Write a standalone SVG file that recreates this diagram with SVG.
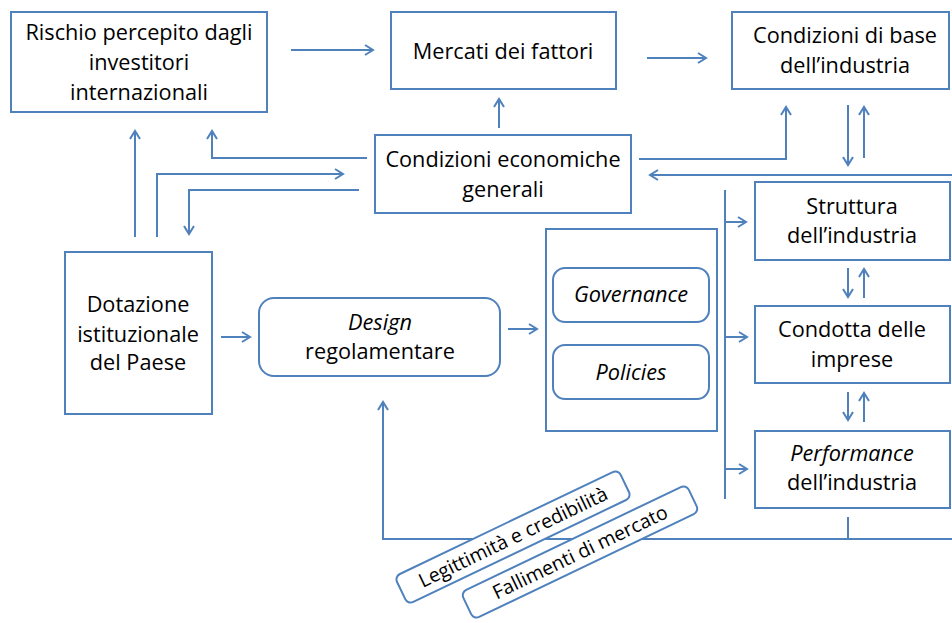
<svg xmlns="http://www.w3.org/2000/svg" width="952" height="623" viewBox="0 0 952 623">
<defs>
<marker id="ah" markerUnits="userSpaceOnUse" markerWidth="14" markerHeight="14" viewBox="-10 -7 12 14" refX="0" refY="0" orient="auto">
<path d="M-8,-5 L0,0 L-8,5" fill="none" stroke="#4F81BD" stroke-width="2"/>
</marker>
<style>
.b{fill:#fff;stroke:#4F81BD;stroke-width:2}
.t{font-family:"Open Sans",Lato,sans-serif;font-size:21.7px;fill:#000;text-anchor:middle;font-variant-ligatures:none}
.i{font-style:italic}
.c{fill:none;stroke:#4F81BD;stroke-width:2}
.a{marker-end:url(#ah)}
.lt{font-family:"Open Sans",Lato,sans-serif;font-size:19.5px;fill:#000;text-anchor:middle;font-variant-ligatures:none}
</style>
</defs>
<rect width="952" height="623" fill="#fff"/>

<g id="connectors">
<path class="c a" d="M291,50 H373"/>
<path class="c a" d="M647,58 H706"/>
<path class="c a" d="M499,128 V99"/>
<path class="c a" d="M639,159 H786 V107"/>
<path class="c a" d="M952,175 H650"/>
<path class="c a" d="M848,105 V165"/>
<path class="c a" d="M864,158 V107"/>
<path class="c a" d="M848,268 V297"/>
<path class="c a" d="M864,298 V269"/>
<path class="c a" d="M848,392 V420"/>
<path class="c a" d="M864,422 V393"/>
<path class="c a" d="M135,237 V131"/>
<path class="c a" d="M367,158 H212 V131"/>
<path class="c a" d="M157,237 V174 H343"/>
<path class="c a" d="M359,190 H189 V234"/>
<path class="c a" d="M221,337 H250"/>
<path class="c a" d="M508,329 H537"/>
<path class="c" d="M725,190 V499"/>
<path class="c a" d="M725,222 H746"/>
<path class="c a" d="M725,337 H747"/>
<path class="c a" d="M725,469 H747"/>
<path class="c" d="M848,517 V539"/>
<path class="c a" d="M952,539 H383 V402"/>
</g>

<g id="rischio">
<rect class="b" x="11" y="12" width="256" height="100"/>
<text class="t" x="139" y="40">Rischio percepito dagli</text>
<text class="t" x="139" y="70">investitori</text>
<text class="t" x="139" y="100">internazionali</text>
</g>
<g id="mercati">
<rect class="b" x="391" y="12" width="225" height="77"/>
<text class="t" x="503" y="59">Mercati dei fattori</text>
</g>
<g id="condizioni-base">
<rect class="b" x="732" y="12" width="217" height="77"/>
<text class="t" x="845" y="43">Condizioni di base</text>
<text class="t" x="845" y="73">dell’industria</text>
</g>
<g id="condizioni-economiche">
<rect class="b" x="375" y="135" width="256" height="78"/>
<text class="t" x="503" y="167">Condizioni economiche</text>
<text class="t" x="503" y="197">generali</text>
</g>
<g id="struttura">
<rect class="b" x="755" y="182" width="195" height="78"/>
<text class="t" x="852" y="214">Struttura</text>
<text class="t" x="852" y="243">dell’industria</text>
</g>
<g id="condotta">
<rect class="b" x="755" y="306" width="195" height="77"/>
<text class="t" x="852" y="337">Condotta delle</text>
<text class="t" x="852" y="367">imprese</text>
</g>
<g id="performance">
<rect class="b" x="755" y="431" width="195" height="77"/>
<text class="t i" x="852" y="461">Performance</text>
<text class="t" x="852" y="490">dell’industria</text>
</g>
<g id="dotazione">
<rect class="b" x="65" y="252" width="147" height="162"/>
<text class="t" x="138" y="312">Dotazione</text>
<text class="t" x="138" y="342">istituzionale</text>
<text class="t" x="138" y="370">del Paese</text>
</g>
<g id="design">
<rect class="b" x="259" y="298" width="241" height="78" rx="15"/>
<text class="t i" x="380" y="330">Design</text>
<text class="t" x="380" y="359">regolamentare</text>
</g>
<g id="strumenti">
<rect class="b" x="546" y="229" width="171" height="202"/>
</g>
<g id="governance">
<rect class="b" x="553" y="268" width="156" height="54" rx="12"/>
<text class="t i" x="631" y="302">Governance</text>
</g>
<g id="policies">
<rect class="b" x="553" y="345" width="156" height="54" rx="12"/>
<text class="t i" x="631" y="380">Policies</text>
</g>
<g id="legittimita" transform="translate(513,537) rotate(-25.6)">
<rect class="b" x="-124" y="-15.5" width="248" height="31" rx="6"/>
<text class="lt" x="0" y="7">Legittimità e credibilità</text>
</g>
<g id="fallimenti" transform="translate(580,552) rotate(-25.6)">
<rect class="b" x="-125" y="-15" width="250" height="30" rx="6"/>
<text class="lt" x="0" y="7">Fallimenti di mercato</text>
</g>
</svg>
